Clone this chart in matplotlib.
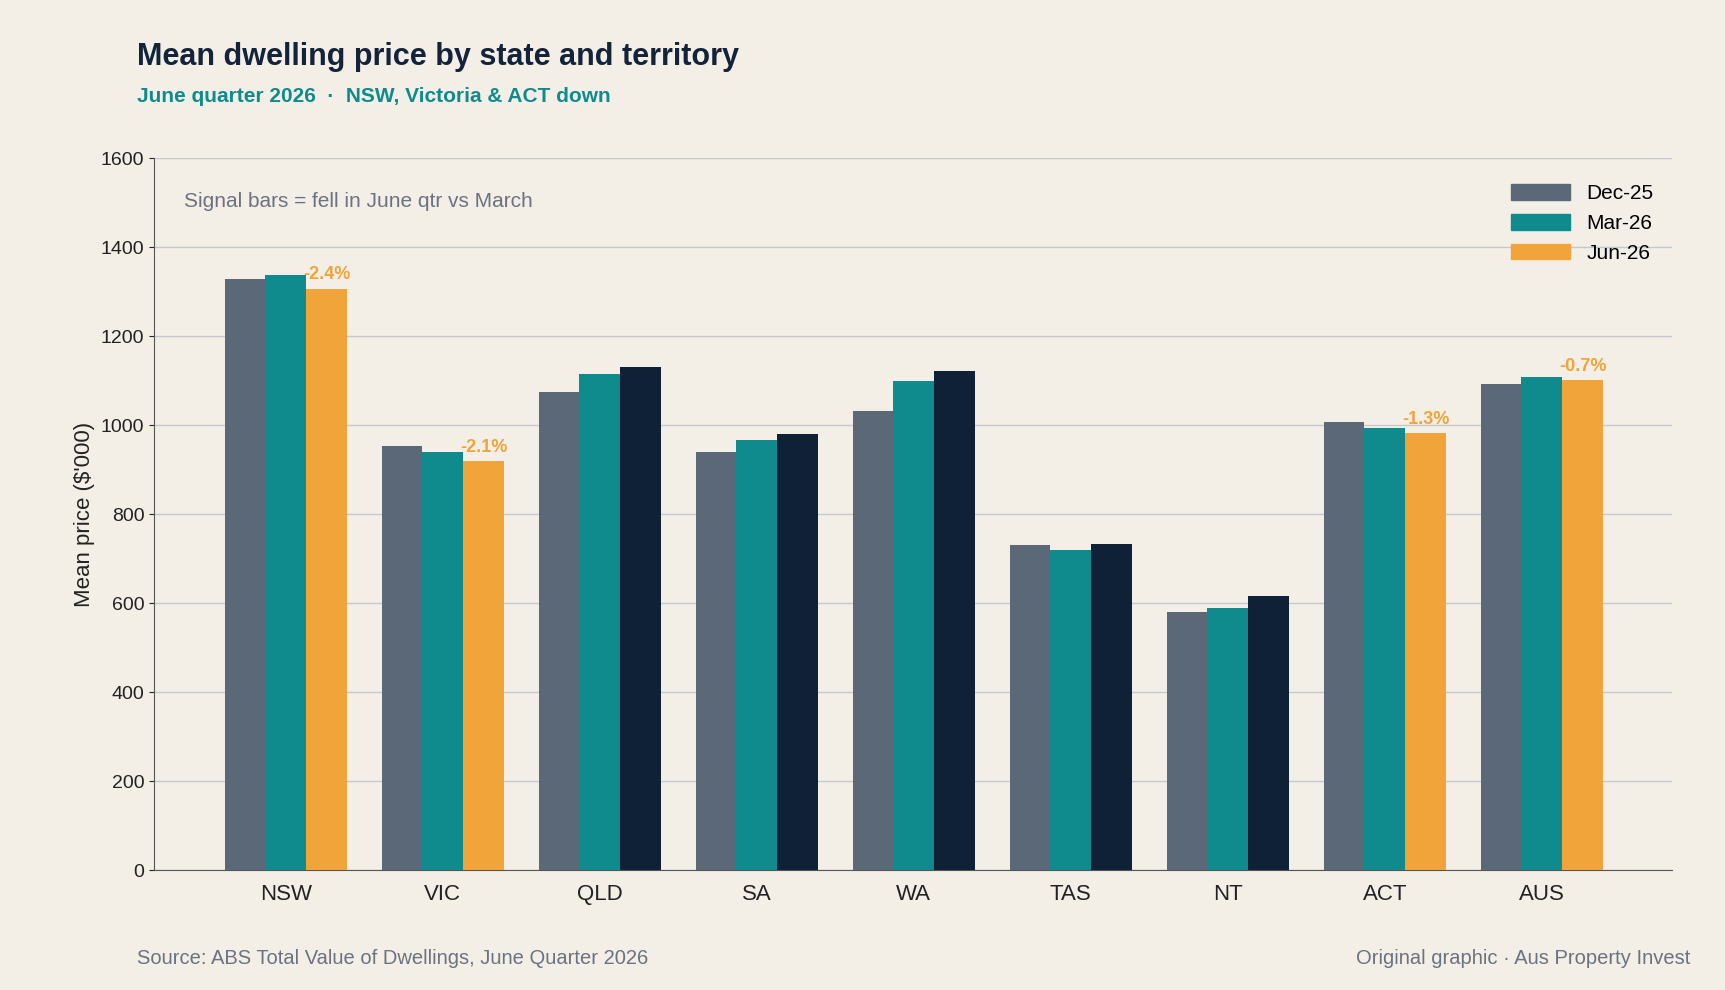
import matplotlib.pyplot as plt
import numpy as np
from matplotlib.patches import Patch

plt.rcParams['font.family'] = ['Liberation Sans', 'DejaVu Sans']

states = ["NSW", "VIC", "QLD", "SA", "WA", "TAS", "NT", "ACT", "AUS"]
dec25 = [1330, 953, 1076, 940, 1032, 730, 580, 1008, 1094]
mar26 = [1339, 940, 1115, 966, 1099, 720, 589, 995, 1109]
jun26 = [1307, 920, 1130, 980, 1123, 733, 616, 982, 1101]
series_labels = ["Dec-25", "Mar-26", "Jun-26"]

bg = "#f3efe7"
c_dec, c_mar, c_jun, c_sig = "#5b6878", "#0f8b8d", "#0f2136", "#f0a43a"

fig = plt.figure(figsize=(17.25, 9.9), dpi=100, facecolor=bg)
ax = fig.add_axes([0.0893, 0.121, 0.880, 0.719], facecolor=bg)

x = np.arange(len(states))
w = 0.26
ax.bar(x - w, dec25, w, color=c_dec, label=series_labels[0], zorder=3)
ax.bar(x, mar26, w, color=c_mar, label=series_labels[1], zorder=3)
jcols = [c_sig if j < m else c_jun for j, m in zip(jun26, mar26)]
ax.bar(x + w, jun26, w, color=jcols, label=series_labels[2], zorder=3)
for i, (j, m) in enumerate(zip(jun26, mar26)):
    if j < m:
        pct = (j - m) / m * 100
        ax.text(x[i] + w, j + 12, f"{pct:.1f}%", ha="center", va="bottom",
                color=c_sig, fontsize=13, fontweight="bold", zorder=4)

ax.set_ylim(0, 1600)
ax.set_xlim(-0.84, 8.83)
ax.set_yticks(range(0, 1601, 200))
ax.set_xticks(x)
ax.set_xticklabels(states, fontsize=16)
ax.tick_params(axis="y", labelsize=14, colors="#222222")
ax.tick_params(axis="x", length=0, pad=10, colors="#222222")
ax.grid(axis="y", color="#c5c9cf", linewidth=1, zorder=0)
for s in ["top", "right"]:
    ax.spines[s].set_visible(False)
ax.spines["left"].set_color("#555555")
ax.spines["bottom"].set_color("#555555")
ax.set_ylabel("Mean price ($'000)", fontsize=16, color="#222222")

ax.text(0.02, 0.94, "Signal bars = fell in June qtr vs March", transform=ax.transAxes,
        fontsize=15, color="#6b7280", va="center")

handles = [Patch(color=c_dec), Patch(color=c_mar), Patch(color=c_sig)]
ax.legend(handles, series_labels, loc="upper right", frameon=False, fontsize=15,
          handlelength=2.8, handleheight=0.8, bbox_to_anchor=(1.0, 0.99))

fig.text(0.0797, 0.942, "Mean dwelling price by state and territory", fontsize=22,
         fontweight="bold", color="#13233a", va="center")
fig.text(0.0797, 0.903, "June quarter 2026  ·  NSW, Victoria & ACT down", fontsize=15,
         fontweight="bold", color=c_mar, va="center")
fig.text(0.0797, 0.032, "Source: ABS Total Value of Dwellings, June Quarter 2026",
         fontsize=14.5, color="#6b7280", va="center")
fig.text(0.98, 0.032, "Original graphic · Aus Property Invest", fontsize=14.5,
         color="#6b7280", va="center", ha="right")

fig.savefig("out.png", dpi=100, facecolor=bg)
